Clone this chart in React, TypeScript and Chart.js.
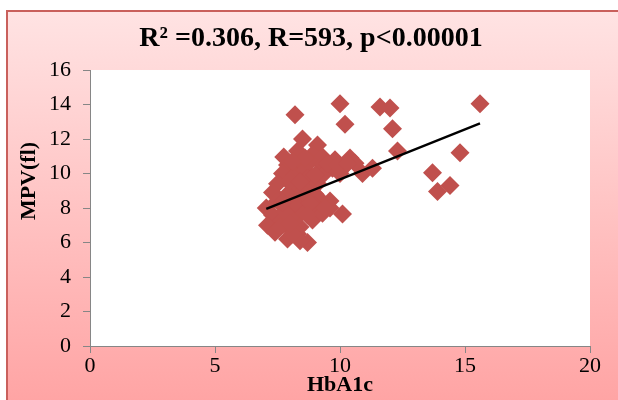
import React, { useEffect, useRef } from "react";
import { Chart, registerables } from "chart.js";

Chart.register(...registerables);

// HbA1c (x) and MPV (y) values
const hba1cValues = [
  8.2, 10.0, 11.6, 12.0, 10.2, 12.1, 12.3, 15.6, 14.8, 13.7, 13.9, 14.4, 8.5, 9.1,
  7.75, 8.3, 8.9, 9.3, 9.8, 10.4,
  7.9, 8.3, 8.8, 9.3, 9.7, 10.6, 10.1,
  7.7, 8.2, 8.6, 9.2, 10.0, 10.9, 11.3,
  7.5, 8.1, 8.7, 9.1, 9.3,
  7.3, 7.9, 8.6, 9.0, 9.2,
  7.05, 7.5, 8.0, 8.4, 9.0, 9.6, 9.6,
  7.3, 7.6, 8.2, 8.5, 8.9, 9.3, 10.1,
  7.1, 8.0, 8.4,
  7.4, 8.3,
  7.9, 8.7, 8.4,
  7.8, 8.2, 8.8, 8.5, 8.0, 8.4, 9.0, 9.5, 8.6, 7.6, 8.1, 7.7, 9.4, 8.7, 8.0, 9.9, 10.3, 8.1,
];
const mpvValues = [
  13.4, 14.05, 13.85, 13.8, 12.85, 12.6, 11.3, 14.05, 11.2, 10.05, 8.95, 9.3, 12.0, 11.65,
  10.95, 11.3, 11.1, 10.95, 10.8, 10.9,
  10.5, 10.4, 10.7, 10.5, 10.3, 10.6, 10.3,
  10.0, 9.9, 10.2, 10.0, 10.0, 10.0, 10.3,
  9.4, 9.3, 9.7, 9.4, 9.9,
  8.9, 8.8, 9.1, 8.8, 8.5,
  8.0, 8.4, 8.0, 8.5, 8.1, 8.4, 8.0,
  7.6, 7.2, 7.4, 7.8, 7.3, 7.7, 7.65,
  7.0, 6.8, 6.9,
  6.6, 6.5,
  6.2, 6.0, 6.1,
  7.8, 8.3, 8.3, 8.9, 9.6, 9.5, 9.9, 10.6, 10.9, 6.9, 6.5, 8.3, 8.0, 7.6, 7.1, 10.5, 10.6, 10.7,
];

// Linear trend line
const trendSlope = 0.579;
const trendIntercept = 3.87;

const chartTitle = "R\u00B2 =0.306, R=593, p<0.00001";
const xAxisTitle = "HbA1c";
const yAxisTitle = "MPV(fl)";

const xMin = 0;
const xMax = 20;
const xStep = 5;
const yMin = 0;
const yMax = 16;
const yStep = 2;

const SERIF = "'Liberation Serif', 'Times New Roman', serif";
const POINT_COLOR = "#C0504D";
const AXIS_COLOR = "#868686";

export default function App() {
  const canvasRef = useRef<HTMLCanvasElement>(null);

  useEffect(() => {
    document.body.style.margin = "0";
    const canvas = canvasRef.current;
    if (!canvas) return;

    const points = hba1cValues.map((x, i) => ({ x, y: mpvValues[i] }));
    const tMinX = Math.min(...hba1cValues);
    const tMaxX = Math.max(...hba1cValues);
    const trend = [
      { x: tMinX, y: trendSlope * tMinX + trendIntercept },
      { x: tMaxX, y: trendSlope * tMaxX + trendIntercept },
    ];

    const decor = {
      id: "decor",
      beforeDraw(chart: any) {
        const { ctx, chartArea: a } = chart;
        ctx.save();
        ctx.fillStyle = "#ffffff";
        ctx.fillRect(a.left, a.top, a.right - a.left, a.bottom - a.top);
        ctx.restore();
      },
      afterDraw(chart: any) {
        const { ctx, chartArea: a } = chart;
        ctx.save();
        ctx.fillStyle = "#000";
        ctx.textAlign = "center";
        ctx.textBaseline = "middle";
        ctx.font = `bold 28px ${SERIF}`;
        ctx.fillText(chartTitle, 311, 39);
        ctx.font = `bold 22px ${SERIF}`;
        ctx.fillText(xAxisTitle, (a.left + a.right) / 2, 385);
        ctx.translate(29, 181);
        ctx.rotate(-Math.PI / 2);
        ctx.fillText(yAxisTitle, 0, 0);
        ctx.restore();
      },
    };

    const chart = new Chart(canvas, {
      type: "scatter",
      data: {
        datasets: [
          {
            type: "line",
            data: trend,
            borderColor: "#000",
            borderWidth: 2.5,
            pointRadius: 0,
            fill: false,
            order: 0,
          } as any,
          {
            type: "scatter",
            data: points,
            pointStyle: "rectRot",
            pointRadius: 9.5,
            backgroundColor: POINT_COLOR,
            borderWidth: 0,
            order: 1,
          },
        ],
      },
      options: {
        responsive: false,
        devicePixelRatio: 1,
        animation: false,
        events: [],
        layout: { padding: { left: 30, right: 28, top: 70, bottom: 24 } },
        plugins: {
          legend: { display: false },
          tooltip: { enabled: false },
          title: { display: false },
        },
        scales: {
          x: {
            type: "linear",
            min: xMin,
            max: xMax,
            afterFit: (s: any) => {
              s.height = 30;
            },
            ticks: {
              stepSize: xStep,
              color: "#000",
              padding: 0,
              font: { family: SERIF, size: 22 },
            },
            grid: {
              drawOnChartArea: false,
              drawTicks: true,
              tickLength: 7,
              color: AXIS_COLOR,
            },
            border: { color: AXIS_COLOR, width: 1 },
          },
          y: {
            type: "linear",
            min: yMin,
            max: yMax,
            afterFit: (s: any) => {
              s.width = 60;
            },
            ticks: {
              stepSize: yStep,
              color: "#000",
              padding: 12,
              font: { family: SERIF, size: 22 },
            },
            grid: {
              drawOnChartArea: false,
              drawTicks: true,
              tickLength: 7,
              color: AXIS_COLOR,
            },
            border: { color: AXIS_COLOR, width: 1 },
          },
        },
      },
      plugins: [decor],
    } as any);

    return () => chart.destroy();
  }, []);

  return (
    <div
      style={{
        position: "relative",
        width: 618,
        height: 400,
        overflow: "hidden",
        background: "#ffffff",
      }}
    >
      <div
        style={{
          position: "absolute",
          left: 6,
          top: 10,
          width: 640,
          height: 420,
          boxSizing: "border-box",
          border: "2px solid #C9605C",
          background: "linear-gradient(#FFE3E3 0px, #FFA4A4 390px)",
        }}
      />
      <canvas
        ref={canvasRef}
        width={618}
        height={400}
        style={{ position: "absolute", left: 0, top: 0, width: 618, height: 400 }}
      />
    </div>
  );
}
